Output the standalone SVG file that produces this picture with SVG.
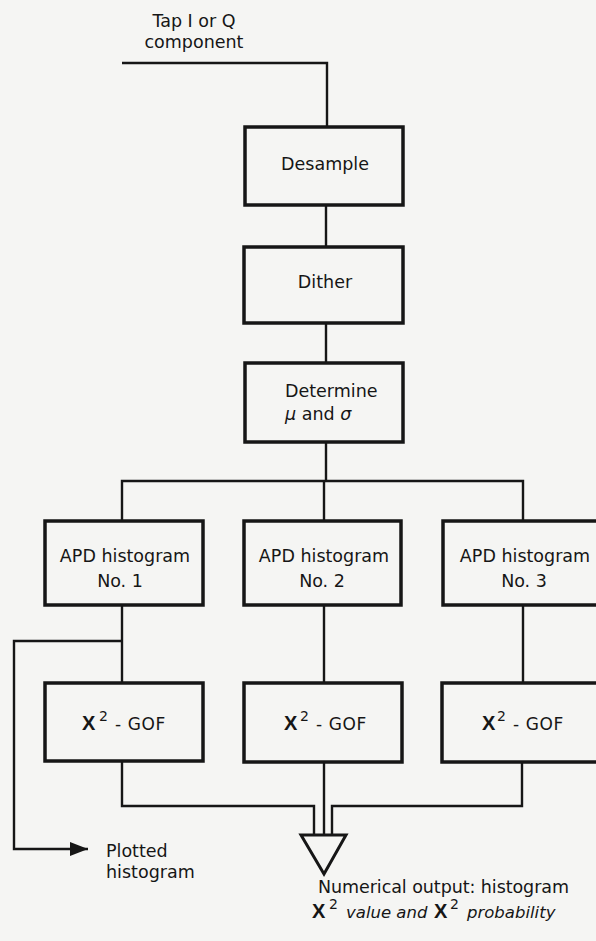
<svg xmlns="http://www.w3.org/2000/svg" width="596" height="941" viewBox="0 0 596 941">
  <style>
    .box { fill: none; stroke: #161616; stroke-width: 3.5; }
    .wire { fill: none; stroke: #161616; stroke-width: 2.4; }
    .t { font-family: "DejaVu Sans", "Liberation Sans", sans-serif; font-size: 17.5px; fill: #161616; }
    .mid { text-anchor: middle; }
    .chi { font-family: "Liberation Sans", Arial, sans-serif; font-weight: bold; font-size: 20px; fill: #161616; }
    .sup { font-family: "DejaVu Sans", sans-serif; font-size: 14px; fill: #161616; }
    .gof { font-family: "DejaVu Sans", sans-serif; font-size: 17px; fill: #161616; letter-spacing: 0.6px; }
    .it { font-family: "DejaVu Sans", sans-serif; font-style: italic; font-size: 16.5px; fill: #161616; }
  </style>
  <defs>
    <marker id="arrow" markerWidth="18" markerHeight="14" refX="18" refY="7" orient="auto" markerUnits="userSpaceOnUse">
      <polygon points="0,0 18,7 0,14" fill="#161616"/>
    </marker>
  </defs>

  <rect x="0" y="0" width="596" height="941" fill="#f5f5f3"/>

  <!-- input label -->
  <g id="input">
    <text class="t mid" x="194" y="27">Tap I or Q</text>
    <text class="t mid" x="194" y="48">component</text>
  </g>

  <!-- connectors -->
  <g id="connectors">
    <polyline class="wire" points="122,63 327,63 327,127"/>
    <line class="wire" x1="326" y1="205" x2="326" y2="247"/>
    <line class="wire" x1="326" y1="323" x2="326" y2="363"/>
    <line class="wire" x1="326" y1="442" x2="326" y2="481"/>
    <polyline class="wire" points="122,521 122,481 523,481 523,521"/>
    <line class="wire" x1="324" y1="481" x2="324" y2="521"/>
    <line class="wire" x1="122" y1="605" x2="122" y2="683"/>
    <line class="wire" x1="324" y1="605" x2="324" y2="683"/>
    <line class="wire" x1="523" y1="605" x2="523" y2="683"/>
    <polyline class="wire" points="122,641 14,641 14,849 88,849" marker-end="url(#arrow)"/>
    <polyline class="wire" points="122,761 122,806 314,806 314,835"/>
    <line class="wire" x1="324" y1="762" x2="324" y2="835"/>
    <polyline class="wire" points="522,762 522,806 332,806 332,835"/>
  </g>

  <g id="desample">
    <rect class="box" x="245" y="127" width="158" height="78"/>
    <text class="t mid" x="325" y="170">Desample</text>
  </g>

  <g id="dither">
    <rect class="box" x="244" y="247" width="159" height="76"/>
    <text class="t mid" x="325" y="288">Dither</text>
  </g>

  <g id="determine">
    <rect class="box" x="245" y="363" width="158" height="79"/>
    <text class="t" x="285" y="397">Determine</text>
    <text class="t" x="285" y="420"><tspan font-style="italic">μ</tspan> and <tspan font-style="italic">σ</tspan></text>
  </g>

  <g id="apd1">
    <rect class="box" x="45" y="521" width="158" height="84"/>
    <text class="t mid" x="125" y="562">APD histogram</text>
    <text class="t mid" x="120" y="587">No. 1</text>
  </g>

  <g id="apd2">
    <rect class="box" x="244" y="521" width="157" height="84"/>
    <text class="t mid" x="324" y="562">APD histogram</text>
    <text class="t mid" x="322" y="587">No. 2</text>
  </g>

  <g id="apd3">
    <rect class="box" x="443" y="521" width="160" height="84"/>
    <text class="t mid" x="525" y="562">APD histogram</text>
    <text class="t mid" x="524" y="587">No. 3</text>
  </g>

  <g id="gof1">
    <rect class="box" x="45" y="683" width="158" height="78"/>
    <text class="chi" x="82" y="730">Χ</text>
    <text class="sup" x="99" y="721">2</text>
    <text class="gof" x="115" y="730">- GOF</text>
  </g>

  <g id="gof2">
    <rect class="box" x="244" y="683" width="158" height="79"/>
    <text class="chi" x="284" y="730">Χ</text>
    <text class="sup" x="300" y="721">2</text>
    <text class="gof" x="316" y="730">- GOF</text>
  </g>

  <g id="gof3">
    <rect class="box" x="442" y="683" width="161" height="79"/>
    <text class="chi" x="482" y="730">Χ</text>
    <text class="sup" x="497" y="721">2</text>
    <text class="gof" x="513" y="730">- GOF</text>
  </g>

  <!-- combined output -->
  <g id="output">
    <polygon points="301,835 346,835 324,874" fill="#f5f5f3" stroke="#161616" stroke-width="3" stroke-linejoin="miter"/>
    <text class="t" x="318" y="893" textLength="251" lengthAdjust="spacing">Numerical output: histogram</text>
    <text class="chi" x="312" y="918">Χ</text>
    <text class="sup" x="329" y="909">2</text>
    <text class="it" x="346" y="918">value and</text>
    <text class="chi" x="434" y="918">Χ</text>
    <text class="sup" x="450" y="909">2</text>
    <text class="it" x="467" y="918" font-size="17.5px">probability</text>
  </g>

  <g id="plotted">
    <text class="t" x="106" y="857">Plotted</text>
    <text class="t" x="106" y="878">histogram</text>
  </g>
</svg>
